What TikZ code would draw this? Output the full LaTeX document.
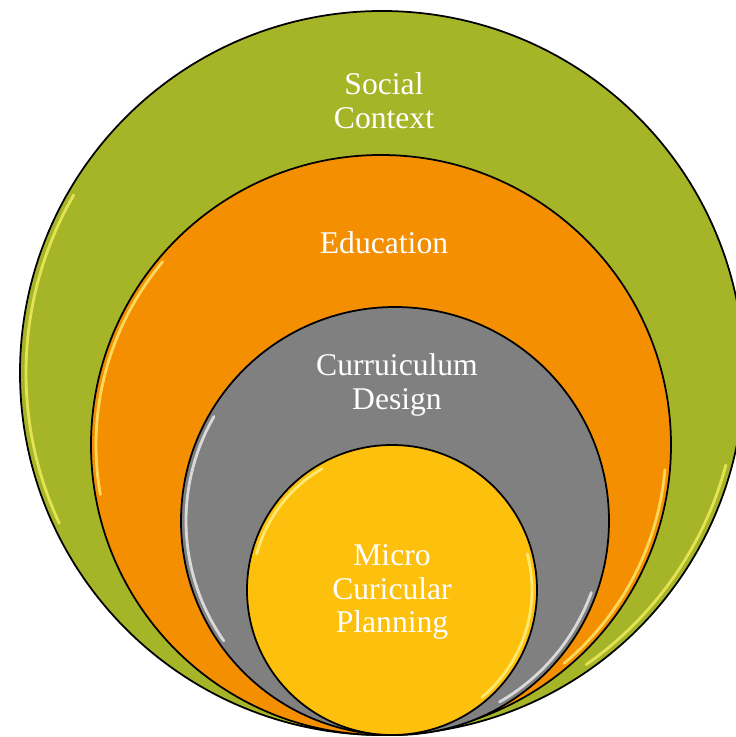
\documentclass[tikz,border=0pt]{standalone}
\usepackage{fontspec}
\setmainfont{Liberation Serif}
\usetikzlibrary{calc}
\definecolor{ringgreen}{RGB}{166,181,40}
\definecolor{ringorange}{RGB}{243,143,0}
\definecolor{ringgray}{RGB}{128,128,128}
\definecolor{ringyellow}{RGB}{253,192,13}
\tikzset{
  ring/.style={draw=black, line width=1pt},
  ringlabel/.style={text=white, align=center, font=\fontsize{18}{19}\selectfont},
  gloss/.style={line width=1.6pt, line cap=round, opacity=0.7}
}
\def\glossarc[#1](#2)(#3:#4:#5){\draw[gloss,#1] ($(#2)+({#5*cos(#3)},{#5*sin(#3)})$) arc (#3:#4:#5);}

\begin{document}
\begin{tikzpicture}
		%%%%% START %%%%%
		
		\clip (0, 0) rectangle (14.72, 14.74);
		
		\coordinate (social) at (7.64, 7.28);
		\coordinate (educ) at (7.62, 5.84);
		\coordinate (design) at (7.90, 4.32);
		\coordinate (micro) at (7.84, 2.94);
		
		\draw[ring, fill=ringgreen] (social) circle (7.24);
		\glossarc[color=yellow!60!white](social)(150:205:7.12);
		\glossarc[color=yellow!60!white](social)(-55:-15:7.12);
		
		\draw[ring, fill=ringorange] (educ) circle (5.80);
		\glossarc[color=yellow!50!white](educ)(140:190:5.70);
		\glossarc[color=yellow!50!white](educ)(-50:-5:5.70);
		
		\draw[ring, fill=ringgray] (design) circle (4.28);
		\glossarc[color=white](design)(150:215:4.18);
		\glossarc[color=white](design)(-60:-20:4.18);
		
		\draw[ring, fill=ringyellow] (micro) circle (2.90);
		\glossarc[color=yellow!40!white](micro)(120:165:2.80);
		\glossarc[color=yellow!40!white](micro)(-50:15:2.80);
		
		\node[ringlabel] (lsocial) at (7.68, 12.73) {Social\\Context};
		\node[ringlabel] (leduc) at (7.68, 9.88) {Education};
		\node[ringlabel] (ldesign) at (7.94, 7.04) {Curruiculum\\Design};
		\node[ringlabel] (lmicro) at (7.84, 2.90) {Micro\\Curicular\\Planning};
		
		%%%%% END %%%%%
	\end{tikzpicture}
\end{document}
